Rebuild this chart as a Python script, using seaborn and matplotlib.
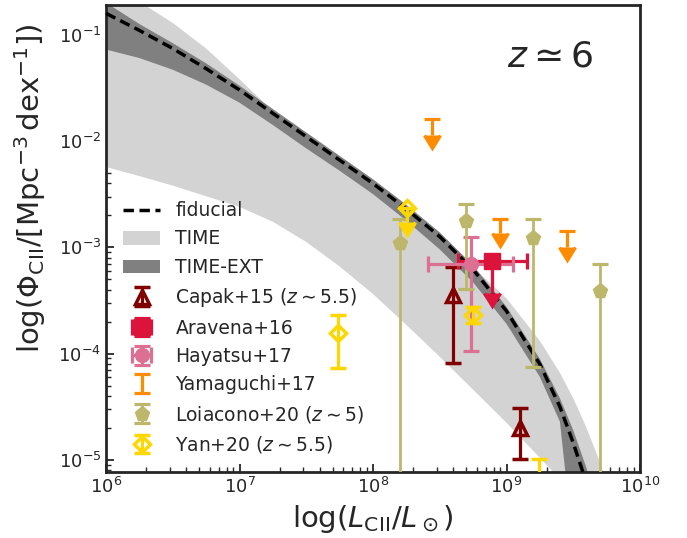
import numpy as np
import matplotlib
matplotlib.use("Agg")
import matplotlib.pyplot as plt
import seaborn as sns
import pandas as pd

# ---- model curves, log10 values ----
log_L = [6.0, 6.25, 6.5, 6.75, 7.0, 7.25, 7.5, 7.75, 8.0, 8.25, 8.5, 8.75,
         9.0, 9.25, 9.4, 9.5, 9.6, 9.7, 9.8]
fid_log_phi = [-0.80, -0.96, -1.13, -1.32, -1.52, -1.74, -1.96, -2.18, -2.40, -2.64,
               -2.90, -3.21, -3.60, -4.10, -4.50, -4.84, -5.22, -5.65, -6.10]
ext_hi = [-0.70, -0.90, -1.08, -1.27, -1.48, -1.70, -1.92, -2.14, -2.36, -2.60,
          -2.86, -3.17, -3.56, -4.05, -4.42, -4.72, -5.08, -5.50, -6.00]
ext_lo = [-1.14, -1.22, -1.33, -1.47, -1.64, -1.85, -2.07, -2.28, -2.50, -2.75,
          -3.02, -3.33, -3.72, -4.22, -4.64, -5.80, -6.50, -7.00, -7.50]
time_hi = [-0.50, -0.69, -0.89, -1.13, -1.42, -1.72, -1.95, -2.17, -2.39, -2.63,
           -2.89, -3.19, -3.48, -3.88, -4.18, -4.42, -4.70, -5.02, -5.40]
time_lo = [-2.245, -2.33, -2.42, -2.52, -2.62, -2.76, -2.95, -3.18, -3.44, -3.73,
           -4.03, -4.34, -4.65, -4.98, -5.18, -5.35, -5.55, -5.80, -6.10]

# ---- observations ----
capak_L = [3.98e8, 1.26e9]
capak_phi = [3.52e-4, 2.0e-5]
capak_err_lo = [2.71e-4, 0.98e-5]
capak_err_hi = [2.94e-4, 1.09e-5]

aravena_L = [7.76e8]
aravena_phi = [7.5e-4]
aravena_xerr_lo = [3.42e8]
aravena_xerr_hi = [6.5e8]
aravena_yerr = [3.8e-4]          # upper limit

hayatsu_L = [5.42e8]
hayatsu_phi = [6.9e-4]
hayatsu_xerr_lo = [2.85e8]
hayatsu_xerr_hi = [5.8e8]
hayatsu_err_lo = [5.85e-4]
hayatsu_err_hi = [5.5e-4]

yamaguchi_L = [2.75e8, 8.9e8, 2.82e9]
yamaguchi_phi = [0.0162, 1.84e-3, 1.41e-3]
yamaguchi_err = [0.0047, 0.00049, 0.00041]   # upper limits

loiacono_L = [1.59e8, 4.98e8, 1.58e9, 5.0e9]
loiacono_phi = [1.09e-3, 1.76e-3, 1.22e-3, 3.85e-4]
loiacono_err_lo = [1.0889e-3, 1.358e-3, 1.145e-3, 3.846e-4]
loiacono_err_hi = [0.75e-3, 0.79e-3, 0.62e-3, 3.05e-4]

yan_L = [5.47e7, 5.61e8, 1.75e9]
yan_phi = [1.55e-4, 2.29e-4, 5.0e-6]
yan_err_lo = [0.81e-4, 0.33e-4, 0.0]
yan_err_hi = [0.74e-4, 0.43e-4, 5.2e-6]
yan_lim_L = [1.80e8]
yan_lim_phi = [2.34e-3]
yan_lim_err = [0.60e-3]

model = pd.DataFrame({"L": 10 ** np.array(log_L),
                      "fid": 10 ** np.array(fid_log_phi)})

sns.set_style("ticks")
plt.rcParams["font.family"] = ["DejaVu Sans"]
plt.rcParams["mathtext.fontset"] = "dejavusans"

fig, ax = plt.subplots(figsize=(6.87, 5.38), dpi=100)
fig.subplots_adjust(left=106 / 687, right=640 / 687, top=1 - 5 / 538, bottom=1 - 472 / 538)

t = ax.fill_between(model["L"], 10 ** np.array(time_lo), 10 ** np.array(time_hi),
                    color="lightgray", lw=0, zorder=1, label="TIME")
e = ax.fill_between(model["L"], 10 ** np.array(ext_lo), 10 ** np.array(ext_hi),
                    color="gray", lw=0, zorder=2, label="TIME-EXT")
sns.lineplot(data=model, x="L", y="fid", ax=ax, color="black", lw=2.5,
             linestyle=(0, (3, 1.6)), zorder=3, label="fiducial")
fid_line = ax.lines[-1]

eb = dict(ls="none", elinewidth=2.3, capsize=6, capthick=2.3, zorder=5)

cap = ax.errorbar(capak_L, capak_phi, yerr=[capak_err_lo, capak_err_hi], marker="^",
                  ms=10, mfc="none", mec="maroon", mew=2.5, color="maroon", **eb)
ara = ax.errorbar(aravena_L, aravena_phi, xerr=[aravena_xerr_lo, aravena_xerr_hi],
                  yerr=aravena_yerr, uplims=True, marker="s", ms=11,
                  color="crimson", **eb)
hay = ax.errorbar(hayatsu_L, hayatsu_phi, xerr=[hayatsu_xerr_lo, hayatsu_xerr_hi],
                  yerr=[hayatsu_err_lo, hayatsu_err_hi], marker="o", ms=10,
                  color="palevioletred", **eb)
yam = ax.errorbar(yamaguchi_L, yamaguchi_phi, yerr=yamaguchi_err, uplims=True,
                  marker="none", color="darkorange", **eb)
loi = ax.errorbar(loiacono_L, loiacono_phi, yerr=[loiacono_err_lo, loiacono_err_hi],
                  marker="p", ms=11, color="darkkhaki",
                  **{**eb, "elinewidth": 2.0})
yan = ax.errorbar(yan_L, yan_phi, yerr=[yan_err_lo, yan_err_hi], marker="D", ms=8,
                  mfc="none", mec="gold", mew=2.5, color="gold", **eb)
ax.errorbar(yan_lim_L, yan_lim_phi, yerr=yan_lim_err, uplims=True, marker="D", ms=8,
            mfc="none", mec="gold", mew=2.5, color="gold", **eb)

ax.set_xscale("log")
ax.set_yscale("log")
ax.set_xlim(1e6, 1e10)
ax.set_ylim(7.7e-6, 0.19)

ax.set_xlabel(r"$\log(L_{\rm CII}/L_\odot)$", fontsize=21)
ax.set_ylabel(r"$\log(\Phi_{\rm CII}/[\rm Mpc^{-3}\,dex^{-1}])$", fontsize=21)
ax.yaxis.set_label_coords(-0.109, 0.608)

ax.text(0.832, 0.89, r"$z\simeq6$", transform=ax.transAxes, fontsize=26,
        ha="center", va="center")

ax.tick_params(which="both", direction="in", top=False, right=False, labelsize=13)
ax.tick_params(which="major", length=6, width=1.3)
ax.tick_params(which="minor", length=3.5, width=1.0)
for s in ax.spines.values():
    s.set_linewidth(2)
    s.set_visible(True)

ax.legend([fid_line, t, e, cap, ara, hay, yam, loi, yan],
          ["fiducial", "TIME", "TIME-EXT", r"Capak+15 ($z\sim5.5$)", "Aravena+16",
           "Hayatsu+17", "Yamaguchi+17", r"Loiacono+20 ($z\sim5$)",
           r"Yan+20 ($z\sim5.5$)"],
          loc="lower left", frameon=False, fontsize=13.5)

fig.savefig("out.png", dpi=100)
